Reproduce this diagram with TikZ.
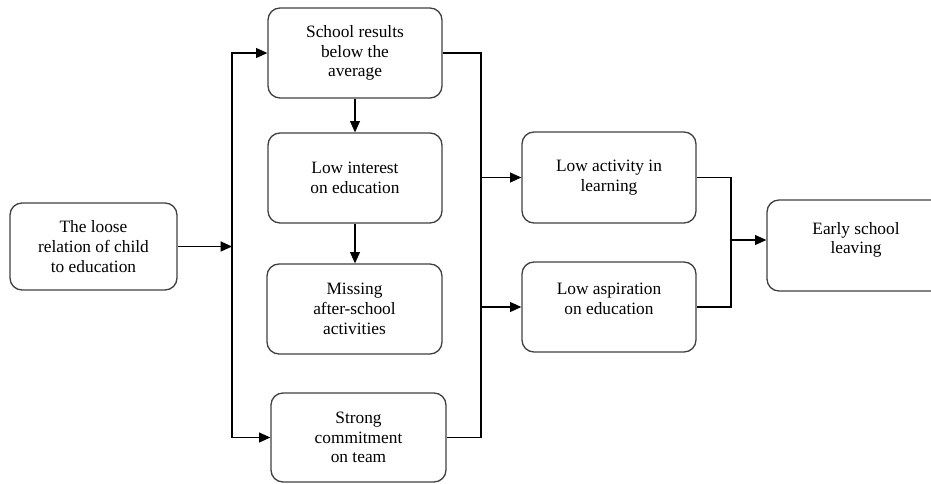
\documentclass[tikz,border=0pt]{standalone}
\usepackage{fontspec}
\setmainfont{Liberation Serif}
\usetikzlibrary{arrows.meta}
\begin{document}
\begin{tikzpicture}[x=0.75pt,y=-0.75pt,
  box/.style={draw=black!75, line width=1pt, rounded corners=9pt, align=center,
    inner sep=0pt, font=\fontsize{13pt}{14.8pt}\selectfont},
  link/.style={draw=black, line width=0.9pt},
  arr/.style={link, -{Triangle[length=8.5pt,width=7.5pt]}}]
\useasboundingbox (0,0) rectangle (931,483);
% boxes
\node[box, minimum width=125.25pt, minimum height=65.25pt] (loose) at (93.5,246.5)
  {The loose\\relation of child\\to education};
\node[box, minimum width=130.5pt, minimum height=67.5pt] (sr) at (355,53)
  {School results\\below the\\average};
\node[box, minimum width=130.5pt, minimum height=67.5pt] (li) at (355,178)
  {Low interest\\on education};
\node[box, minimum width=131.25pt, minimum height=67.5pt] (ms) at (354.5,309)
  {Missing\\after-school\\activities};
\node[box, minimum width=131.25pt, minimum height=66.75pt] (sc) at (358.5,437.5)
  {Strong\\commitment\\on team};
\node[box, minimum width=130.5pt, minimum height=68.25pt] (la) at (609,177.5)
  {Low activity in\\learning};
\node[box, minimum width=130.5pt, minimum height=67.5pt] (lasp) at (609,307)
  {Low aspiration\\on education\\[-2.8pt]};
\node[box, minimum width=133.5pt, minimum height=68.25pt] (es) at (856,245.5)
  {Early school\\leaving\\[-3.6pt]};
% junction points
\coordinate (jL) at (232,246.5);
\coordinate (jR) at (481,240);
\coordinate (jE) at (731,240);
% left fan-out
\draw[arr] (loose.east) -- (jL);
\draw[arr] (jL) |- (sr.west);
\draw[arr] (jL) |- (sc.west);
% middle chain
\draw[arr] (sr.south) -- (li.north);
\draw[arr] (li.south) -- (li.south |- ms.north);
% collector to the right
\draw[link] (sr.east) -| (jR) |- (sc.east);
\draw[arr] (jR |- la.west) -- (la.west);
\draw[arr] (jR |- lasp.west) -- (lasp.west);
% final merge
\draw[link] (la.east) -| (jE) |- (lasp.east);
\draw[arr] (jE) -- (jE -| es.west);
\end{tikzpicture}
\end{document}
